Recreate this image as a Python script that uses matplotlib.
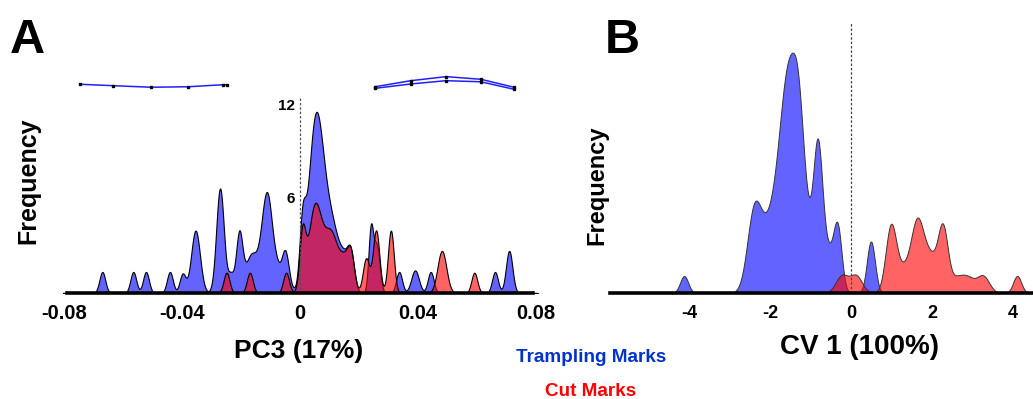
import numpy as np
import matplotlib.pyplot as plt

plt.rcParams['font.family'] = ['Liberation Sans', 'DejaVu Sans']
plt.rcParams['font.weight'] = 'bold'

# Panel A (PC3) - density peaks: centre, height, width
a_tramp_pos = [-0.0670, -0.0565, -0.0522, -0.0441, -0.0398, -0.0354, -0.0271, -0.0235,
               -0.0206, -0.0165, -0.0112, -0.0078, -0.0051, 0.0008, 0.0050, 0.0085,
               0.0120, 0.0150, 0.0172, 0.0240, 0.0260, 0.0336, 0.0390, 0.0443,
               0.0661, 0.0709]
a_tramp_h = [1.35, 1.35, 1.35, 1.35, 1.2, 4.0, 6.7, 1.1,
             3.7, 2.4, 6.4, 0.7, 2.7, 3.5, 9.0, 4.6,
             1.5, 1.5, 2.3, 4.0, 3.0, 1.35, 1.45, 1.35,
             1.35, 2.7]
a_tramp_w = [0.0010, 0.0010, 0.0010, 0.0010, 0.0010, 0.0015, 0.0013, 0.0010,
             0.0011, 0.0020, 0.0019, 0.0010, 0.0013, 0.0010, 0.0024, 0.0030,
             0.0020, 0.0015, 0.0012, 0.0008, 0.0010, 0.0010, 0.0013, 0.0010,
             0.0010, 0.0011]

a_cut_pos = [-0.0249, -0.0170, -0.0047, 0.0008, 0.0050, 0.0105, 0.0150, 0.0172,
             0.0224, 0.0258, 0.0308, 0.0481, 0.0591]
a_cut_h = [1.3, 1.3, 1.3, 3.5, 5.4, 3.8, 1.5, 2.3,
           2.2, 4.0, 4.0, 2.7, 1.3]
a_cut_w = [0.0010, 0.0010, 0.0010, 0.0010, 0.0022, 0.0025, 0.0015, 0.0012,
           0.0011, 0.0011, 0.0010, 0.0015, 0.0010]

a_ticks = [-0.08, -0.04, 0, 0.04, 0.08]
a_tick_labels = ['-0.08', '-0.04', '0', '0.04', '0.08']

# landmark configurations at the two ends of PC3
shape_neg_x = [-0.0746, -0.0634, -0.0505, -0.0380, -0.0261, -0.0247]
shape_neg_y = [13.38, 13.29, 13.19, 13.22, 13.35, 13.35]
shape_pos_x = [0.0254, 0.0376, 0.0495, 0.0613, 0.0725]
shape_pos_top = [13.22, 13.61, 13.87, 13.70, 13.19]
shape_pos_bot = [13.12, 13.40, 13.61, 13.54, 13.06]

# Panel B (CV 1)
b_tramp_pos = [-4.12, -2.40, -2.00, -1.55, -1.30, -1.25, -0.95, -0.82, -0.55, -0.33, 0.49]
b_tramp_h = [1.09, 4.6, 4.0, 12.7, 2.5, 4.0, 2.2, 7.3, 2.0, 3.7, 3.3]
b_tramp_w = [0.10, 0.17, 0.25, 0.22, 0.12, 0.18, 0.25, 0.11, 0.15, 0.10, 0.10]

b_cut_pos = [-0.23, 0.12, 0.98, 1.30, 1.63, 1.95, 2.27, 2.57, 2.86, 3.26, 4.10]
b_cut_h = [1.1, 1.1, 4.0, 1.5, 3.8, 2.3, 3.7, 0.7, 1.0, 1.05, 1.09]
b_cut_w = [0.15, 0.15, 0.13, 0.20, 0.15, 0.20, 0.12, 0.15, 0.18, 0.15, 0.10]

b_ticks = [-4, -2, 0, 2, 4]

BLUE = (0.0, 0.0, 1.0, 0.61)
RED = (1.0, 0.0, 0.0, 0.61)
W, H = 1033, 399


def density(x, pos, h, w):
    y = np.zeros_like(x)
    for c, a, s in zip(pos, h, w):
        y += a * np.exp(-0.5 * ((x - c) / s) ** 2)
    return y


def box(left, right, top, bottom):
    return [left / W, 1 - bottom / H, (right - left) / W, (bottom - top) / H]


def style(ax):
    for s in ['left', 'right', 'top']:
        ax.spines[s].set_visible(False)
    ax.spines['bottom'].set_linewidth(2.6)
    ax.set_yticks([])
    ax.tick_params(axis='x', length=0)


fig = plt.figure(figsize=(W / 100, H / 100), dpi=100)

# ---- A ----
axA = fig.add_axes(box(62.5, 537.5, 20, 293))
xa = np.linspace(-0.0805, 0.0805, 3000)
for pos, h, w, col in [(a_tramp_pos, a_tramp_h, a_tramp_w, BLUE),
                       (a_cut_pos, a_cut_h, a_cut_w, RED)]:
    axA.fill_between(xa, 0, density(xa, pos, h, w), facecolor=col,
                     edgecolor='black', linewidth=0.8)
axA.plot([0, 0], [0, 12.56], color='#555555', lw=0.9, ls=(0, (2, 1.5)))
axA.text(-0.0018, 12, '12', ha='right', va='center', fontsize=11)
axA.text(-0.0018, 6, '6', ha='right', va='center', fontsize=11)
for ys in [shape_pos_top, shape_pos_bot]:
    axA.plot(shape_pos_x, ys, color='#2020ff', lw=1.1, marker='s', ms=1.8,
             mfc='black', mec='black', clip_on=False)
axA.plot(shape_neg_x, shape_neg_y, color='#2020ff', lw=1.1, marker='s', ms=1.8,
         mfc='black', mec='black', clip_on=False)
axA.set_xlim(-0.0805, 0.0805)
axA.set_ylim(0, 17.5)
style(axA)
axA.spines['bottom'].set_bounds(-0.079, 0.079)
axA.set_xticks(a_ticks)
axA.set_xticklabels(a_tick_labels, fontsize=14.5, fontweight='bold')
axA.tick_params(axis='x', pad=8)

# ---- B ----
axB = fig.add_axes(box(610, 1033, 20, 293))
xb = np.linspace(-5.95, 4.49, 3000)
for pos, h, w, col in [(b_tramp_pos, b_tramp_h, b_tramp_w, BLUE),
                       (b_cut_pos, b_cut_h, b_cut_w, RED)]:
    axB.fill_between(xb, 0, density(xb, pos, h, w), facecolor=col,
                     edgecolor='#333333', linewidth=0.7)
axB.plot([0, 0], [0, 17.3], color='#444444', lw=0.9, ls=(0, (2, 1.5)))
axB.set_xlim(-5.95, 4.49)
axB.set_ylim(0, 17.5)
style(axB)
axB.set_xticks(b_ticks)
axB.set_xticklabels([str(t) for t in b_ticks], fontsize=13, fontweight='bold')
axB.tick_params(axis='x', pad=9)

# ---- labels ----
fig.text(10 / W, 1 - 53 / H, 'A', fontsize=35, fontweight='bold', ha='left', va='baseline')
fig.text(605 / W, 1 - 53 / H, 'B', fontsize=35, fontweight='bold', ha='left', va='baseline')
fig.text(28 / W, 1 - 181 / H, 'Frequency', fontsize=18, rotation=90, ha='center', va='center')
fig.text(597 / W, 1 - 185 / H, 'Frequency', fontsize=17, rotation=90, ha='center', va='center')
fig.text(299 / W, 1 - 351 / H, 'PC3 (17%)', fontsize=19, ha='center', va='center')
fig.text(859 / W, 1 - 347 / H, 'CV 1 (100%)', fontsize=20, ha='center', va='center')
fig.text(591 / W, 1 - 357 / H, 'Trampling Marks', fontsize=13.6, color='#0033cc',
         ha='center', va='center')
fig.text(591 / W, 1 - 392 / H, 'Cut Marks', fontsize=13.6, color='#ff0000',
         ha='center', va='center')

fig.savefig('out.png', dpi=100)
